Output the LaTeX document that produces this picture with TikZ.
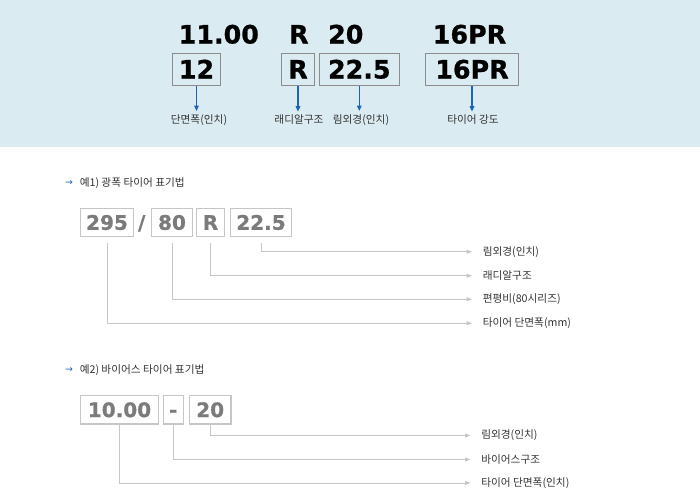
\documentclass[tikz,border=0pt]{standalone}
\usepackage{fontspec}
\setmainfont{DejaVu Sans}[BoldFeatures={FakeBold=0.8}]
\newfontfamily\kr{Noto Sans CJK KR}
\usetikzlibrary{arrows.meta}
\definecolor{bandblue}{HTML}{DAEBF1}
\definecolor{boxgray}{HTML}{8C8C8C}
\definecolor{linegray}{HTML}{C6C6C6}
\definecolor{numgray}{HTML}{7B7B7B}
\definecolor{arrowblue}{HTML}{1C64B4}
\definecolor{textdark}{HTML}{333333}
\tikzstyle{topnum}=[font=\bfseries\fontsize{19}{19}\selectfont, anchor=base, inner sep=0pt]
\tikzstyle{topbox}=[draw=boxgray, line width=1pt, minimum height=24pt, inner sep=0pt, text height=13.8pt, text depth=0pt, font=\bfseries\fontsize{19}{19}\selectfont]
\tikzstyle{gbox}=[draw=linegray, line width=1pt, minimum height=21.3pt, inner sep=0pt, text height=10.9pt, text depth=0pt, text=numgray, font=\bfseries\fontsize{15}{15}\selectfont]
\tikzstyle{toplabel}=[font=\kr\fontsize{8}{8}\selectfont, text=textdark, inner sep=0pt]
\tikzstyle{note}=[font=\kr\fontsize{8}{8}\selectfont, text=textdark, anchor=west, inner sep=0pt]
\tikzstyle{blueedge}=[draw=arrowblue, line width=0.8pt, -{Triangle[length=4pt,width=3.5pt]}, shorten >=2.5pt]
\tikzstyle{grayedge}=[draw=linegray, line width=0.75pt, -{Triangle[length=4pt,width=3pt]}, shorten >=8pt]

\begin{document}
\begin{tikzpicture}[x=0.75pt, y=-0.75pt]
    \useasboundingbox (0,0) rectangle (700,489);
    \fill[bandblue] (0,0) rectangle (700,147);

    % Top band: the old and the new way of writing a size
    \foreach \pos/\name/\txt in {{(218.8,43.5)/t1/11.00}, {(298.8,43.5)/t2/R},
                                 {(345.8,43.5)/t3/20}, {(469.5,43.5)/t4/16PR}}
        \node[topnum] (\name) at \pos {\txt};
    \foreach \pos/\name/\boxw/\txt in {{(196.5,69.3)/w/35.7pt/12}, {(298,69.3)/r/24.5pt/R},
                                       {(359.3,69.3)/d/60pt/22.5}, {(472,69.3)/p/69.5pt/16PR}}
        \node[topbox, minimum width=\boxw] (\name) at \pos {\txt};
    \foreach \pos/\name/\txt in {{(199,120)/lw/단면폭(인치)}, {(299,120)/lr/래디알구조},
                                 {(361,120)/ld/림외경(인치)}, {(473,120)/lp/타이어 강도}}
        \node[toplabel] (\name) at \pos {\txt};
    \foreach \source/\dest in {w/lw, r/lr, d/ld, p/lp}
        \draw[blueedge] (\source.south) -- (\source.south |- \dest.north);

    % Example 1: radial tyre
    \node[text=arrowblue, font=\fontsize{7}{7}\selectfont, inner sep=0pt] (ha) at (69,183) {→};
    \node[note] (h1) at (79.5,183) {예1) 광폭 타이어 표기법};
    \foreach \pos/\name/\boxw/\txt in {{(107,222.5)/a/39.5pt/295}, {(172,222.5)/b/30.5pt/80},
                                       {(210.5,222.5)/c/20.7pt/R}, {(261,222.5)/e/45.5pt/22.5}}
        \node[gbox, minimum width=\boxw] (\name) at \pos {\txt};
    \node[gbox, draw=none] (slash) at (141.7,222.5) {/};
    \foreach \pos/\name/\txt in {{(482.5,251.7)/na/림외경(인치)}, {(482.5,275.7)/nb/래디알구조},
                                 {(482.5,299.3)/nc/편평비(80시리즈)}, {(482.5,323.3)/nd/타이어 단면폭(mm)}}
        \node[note] (\name) at \pos {\txt};
    \foreach \source/\dest in {e/na, c/nb, b/nc, a/nd}
        \draw[grayedge, shorten <=4.5pt] (\source.south) |- (\dest.west);

    % Example 2: bias tyre
    \node[text=arrowblue, font=\fontsize{7}{7}\selectfont, inner sep=0pt] (hb) at (69,370) {→};
    \node[note] (h2) at (79.5,370) {예2) 바이어스 타이어 표기법};
    \foreach \pos/\name/\boxw/\txt in {{(119.5,409.8)/f/58.2pt/10.00}, {(173.3,409.8)/g/15pt/-},
                                       {(210.2,409.8)/h/31.3pt/20}}
        \node[gbox, minimum width=\boxw] (\name) at \pos {\txt};
    \foreach \pos/\name/\txt in {{(481,435.5)/nf/림외경(인치)}, {(481,459.5)/ng/바이어스구조},
                                 {(481,483)/nh/타이어 단면폭(인치)}}
        \node[note] (\name) at \pos {\txt};
    \foreach \source/\dest in {h/nf, g/ng, f/nh}
        \draw[grayedge] (\source.south) |- (\dest.west);
\end{tikzpicture}
\end{document}
